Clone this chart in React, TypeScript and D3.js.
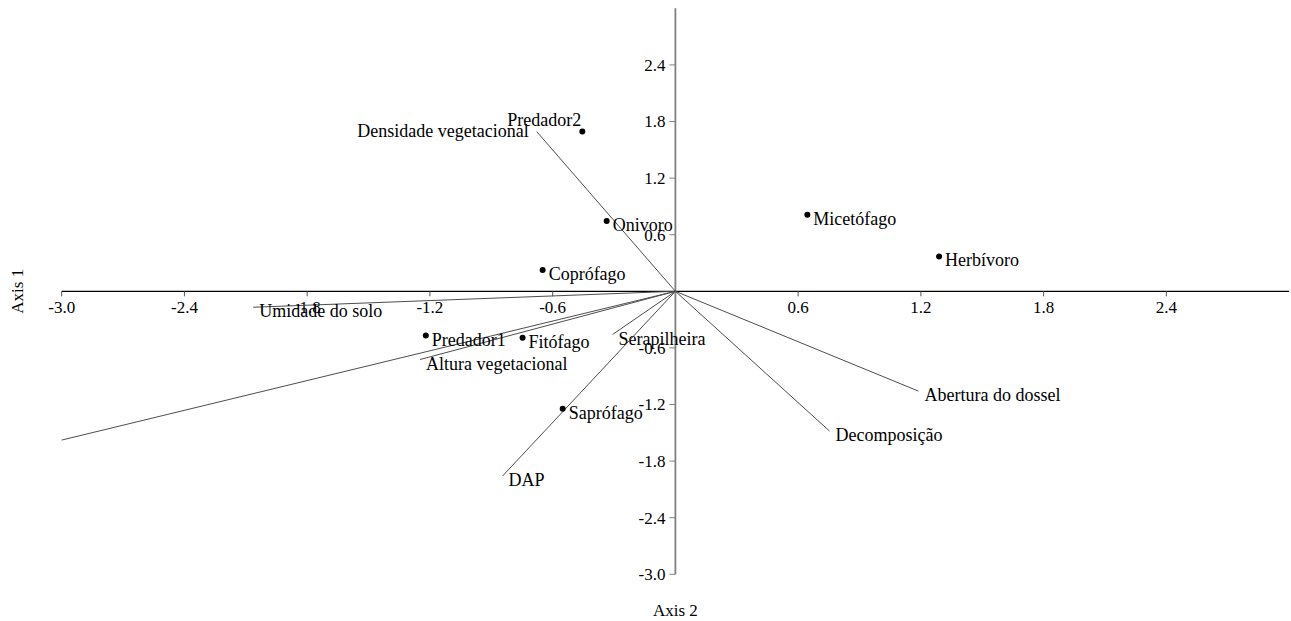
import React from "react";
import { scaleLinear } from "d3";

// ordination scores
const pointNames = ["Predador2", "Onivoro", "Coprófago", "Micetófago", "Herbívoro", "Predador1", "Fitófago", "Saprófago"];
const pointX = [-0.455, -0.336, -0.649, 0.645, 1.289, -1.22, -0.747, -0.551];
const pointY = [1.693, 0.746, 0.226, 0.812, 0.37, -0.469, -0.493, -1.245];

// environmental vectors (the long one has no visible label)
const vectorNames = ["Densidade vegetacional", "Umidade do solo", "", "Altura vegetacional", "Serapilheira", "DAP", "Abertura do dossel", "Decomposição"];
const vectorX = [-0.678, -2.064, -3.0, -1.248, -0.307, -0.845, 1.188, 0.753];
const vectorY = [1.693, -0.169, -1.577, -0.723, -0.458, -1.958, -1.058, -1.481];

const tickValues = [-3.0, -2.4, -1.8, -1.2, -0.6, 0.6, 1.2, 1.8, 2.4];
const domain = [-3, 3];

const W = 1291;
const H = 621;
const font = "'Liberation Serif', 'Times New Roman', serif";

export default function App() {
  const x = scaleLinear().domain(domain).range([61.7, 1289.1]);
  const y = scaleLinear().domain(domain).range([574.3, 8.3]);
  const x0 = x(0);
  const y0 = y(0);

  // labels that sit somewhere other than lower-right of their mark
  const leftAbove = { "Predador2": true };
  const leftOf = { "Densidade vegetacional": true };

  const labelProps = (name: string, px: number, py: number) => {
    if (leftAbove[name]) return { x: px - 1, y: py - 6, textAnchor: "end" };
    if (leftOf[name]) return { x: px - 8, y: py + 5, textAnchor: "end" };
    return { x: px + 6, y: py + 10, textAnchor: "start" };
  };

  return (
    <div style={{ position: "absolute", left: 0, top: 0 }}>
      <svg width={W} height={H} style={{ display: "block", fontFamily: font }}>
        <rect width={W} height={H} fill="#fff" />

        {/* x axis */}
        <line x1={x(-3)} x2={x(3)} y1={y0} y2={y0} stroke="#000" strokeWidth={1.2} />
        {tickValues.map((t) => (
          <g key={"xt" + t}>
            <line x1={x(t)} x2={x(t)} y1={y0} y2={y0 + 5} stroke="#555" />
            <text x={x(t)} y={y0 + 22} textAnchor="middle" fontSize={17} fill="#000">
              {t.toFixed(1)}
            </text>
          </g>
        ))}

        {/* y axis */}
        <line x1={x0} x2={x0} y1={y(3)} y2={y(-3)} stroke="#808080" strokeWidth={1.8} />
        {tickValues.map((t) => (
          <g key={"yt" + t}>
            <line x1={x0 - 6} x2={x0} y1={y(t)} y2={y(t)} stroke="#808080" />
            <text x={x0 - 10} y={y(t)} dy="0.35em" textAnchor="end" fontSize={17} fill="#000">
              {t.toFixed(1)}
            </text>
          </g>
        ))}

        <text transform={`translate(23,${y0}) rotate(-90)`} textAnchor="middle" fontSize={17} fill="#000">
          Axis 1
        </text>
        <text x={x0} y={616} textAnchor="middle" fontSize={17} fill="#000">
          Axis 2
        </text>

        {/* vectors */}
        {vectorNames.map((name, i) => {
          const px = x(vectorX[i]);
          const py = y(vectorY[i]);
          const lp = labelProps(name, px, py);
          return (
            <g key={"v" + i}>
              <line x1={x0} y1={y0} x2={px} y2={py} stroke="#4d4d4d" strokeWidth={1} />
              {name && (
                <text x={lp.x} y={lp.y} textAnchor={lp.textAnchor} fontSize={18} fill="#000">
                  {name}
                </text>
              )}
            </g>
          );
        })}

        {/* points */}
        {pointNames.map((name, i) => {
          const px = x(pointX[i]);
          const py = y(pointY[i]);
          const lp = labelProps(name, px, py);
          return (
            <g key={"p" + i}>
              <circle cx={px} cy={py} r={3} fill="#000" />
              <text x={lp.x} y={lp.y} textAnchor={lp.textAnchor} fontSize={18} fill="#000">
                {name}
              </text>
            </g>
          );
        })}
      </svg>
    </div>
  );
}
